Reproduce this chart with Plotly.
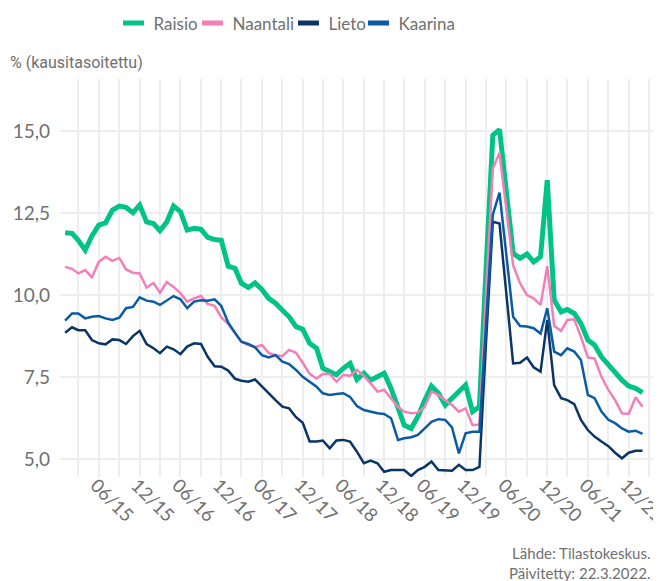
import pandas as pd
import plotly.graph_objects as go

months = pd.date_range("2015-01-01", periods=86, freq="MS")

series_names = ["Raisio", "Naantali", "Lieto", "Kaarina"]
series_colors = ["#00C386", "#F47FB8", "#0B3565", "#0A5BA6"]
series_widths = [5, 2.5, 2.5, 2.5]

raisio = [11.90, 11.88, 11.67, 11.37, 11.80, 12.13, 12.20, 12.59, 12.71, 12.67,
          12.51, 12.74, 12.23, 12.18, 11.96, 12.23, 12.71, 12.54, 11.98, 12.03,
          12.00, 11.76, 11.69, 11.67, 10.88, 10.81, 10.36, 10.23, 10.37, 10.17,
          9.90, 9.75, 9.54, 9.34, 9.04, 8.96, 8.53, 8.38, 7.77, 7.67,
          7.57, 7.77, 7.92, 7.43, 7.62, 7.41, 7.51, 7.62, 7.16, 6.60,
          6.04, 5.94, 6.30, 6.80, 7.23, 7.01, 6.65, 6.86, 7.06, 7.26,
          6.45, 6.60, 10.70, 14.87, 15.04, 13.10, 11.27, 11.12, 11.25, 11.01,
          11.17, 13.50, 9.85, 9.49, 9.56, 9.44, 9.14, 8.63, 8.48, 8.12,
          7.87, 7.62, 7.41, 7.23, 7.16, 7.03]

naantali = [10.86, 10.80, 10.66, 10.76, 10.54, 11.01, 11.17, 11.04, 11.13, 10.78,
            10.68, 10.66, 10.23, 10.37, 10.07, 10.40, 10.25, 10.05, 9.80, 9.90,
            9.97, 9.73, 9.67, 9.32, 9.12, 8.83, 8.58, 8.48, 8.41, 8.48,
            8.24, 8.17, 8.14, 8.33, 8.24, 7.94, 7.60, 7.46, 7.60, 7.60,
            7.36, 7.57, 7.54, 7.72, 7.54, 7.31, 7.06, 7.11, 6.86, 6.60,
            6.45, 6.40, 6.42, 6.60, 7.06, 6.96, 6.80, 6.65, 6.45, 6.55,
            6.04, 6.06, 9.96, 13.86, 14.33, 12.60, 10.91, 10.36, 10.00, 9.90,
            9.70, 10.88, 9.06, 8.91, 9.24, 9.26, 8.73, 8.10, 8.07, 7.51,
            7.11, 6.80, 6.40, 6.38, 6.89, 6.60]

lieto = [8.85, 9.02, 8.93, 8.93, 8.63, 8.53, 8.50, 8.65, 8.63, 8.51,
         8.75, 8.91, 8.51, 8.38, 8.23, 8.43, 8.35, 8.20, 8.43, 8.53,
         8.51, 8.12, 7.83, 7.82, 7.70, 7.45, 7.39, 7.36, 7.43, 7.21,
         7.01, 6.80, 6.60, 6.55, 6.28, 6.11, 5.54, 5.54, 5.57, 5.33,
         5.57, 5.59, 5.54, 5.23, 4.88, 4.96, 4.88, 4.62, 4.67, 4.67,
         4.67, 4.49, 4.67, 4.77, 4.93, 4.67, 4.65, 4.65, 4.83, 4.67,
         4.67, 4.77, 8.50, 12.23, 12.18, 10.05, 7.92, 7.94, 8.10, 7.80,
         7.67, 9.24, 7.26, 6.86, 6.80, 6.68, 6.20, 5.89, 5.69, 5.54,
         5.40, 5.20, 5.03, 5.20, 5.26, 5.26]

kaarina = [9.22, 9.44, 9.44, 9.29, 9.34, 9.36, 9.29, 9.24, 9.31, 9.60,
           9.64, 9.93, 9.83, 9.80, 9.70, 9.83, 9.97, 9.87, 9.60, 9.80,
           9.84, 9.83, 9.87, 9.67, 9.16, 8.85, 8.58, 8.51, 8.41, 8.17,
           8.10, 8.17, 7.97, 7.90, 7.72, 7.51, 7.36, 7.21, 7.01, 6.96,
           6.99, 7.01, 6.90, 6.62, 6.50, 6.45, 6.40, 6.38, 6.25, 5.59,
           5.64, 5.67, 5.74, 5.94, 6.14, 6.22, 6.20, 5.97, 5.18, 5.79,
           5.84, 5.84, 9.15, 12.45, 13.12, 11.20, 9.34, 9.06, 9.04, 8.99,
           8.83, 9.60, 8.28, 8.17, 8.38, 8.28, 8.02, 6.96, 6.86, 6.45,
           6.20, 6.10, 5.94, 5.84, 5.87, 5.77]

y_ticks = [5, 7.5, 10, 12.5, 15]

all_series = [raisio, naantali, lieto, kaarina]

TEXT = "#707070"
GRID = "#eeeeee"
FONT = "Lato"

legend_ids = ["legend", "legend2", "legend3", "legend4"]
legend_x = [0.0902, 0.2234, 0.3853, 0.5034]

fig = go.Figure()
for name, vals, col, w in zip(series_names, all_series, series_colors, series_widths):
    fig.add_trace(go.Scatter(x=months, y=vals, mode="lines", name=name,
                             line=dict(color=col, width=w), showlegend=False,
                             hoverinfo="skip"))
# legend-only entries (uniform short thick keys), one legend box per entry
for name, col, lid in zip(series_names, series_colors, legend_ids):
    fig.add_trace(go.Scatter(x=[None], y=[None], mode="markers", name=name,
                             marker=dict(symbol="line-ew", size=15,
                                         line=dict(color=col, width=5)),
                             showlegend=True, legend=lid))

legend_style = {}
for lid, lx in zip(legend_ids, legend_x):
    legend_style[lid] = dict(orientation="h", x=lx, xanchor="left", y=1.1395,
                             yanchor="middle", font=dict(family=FONT, size=17, color=TEXT),
                             itemwidth=30, bgcolor="rgba(0,0,0,0)")

# page body adds an 8px offset, so the figure is 8px smaller on each axis
fig.update_layout(
    width=653, height=573,
    margin=dict(l=52, r=8, t=71, b=104, autoexpand=False),
    paper_bgcolor="white", plot_bgcolor="white",
    separators=", ",
    font=dict(family=FONT, color=TEXT, size=18),
    **legend_style,
    xaxis=dict(type="date", range=["2014-12-09", "2022-03-20"],
               tick0="2015-06-01", dtick="M6", tickformat="%m/%y",
               tickangle=45, showgrid=True, gridcolor=GRID, gridwidth=1.5,
               minor=dict(dtick="M3", tick0="2015-03-01", showgrid=True,
                          gridcolor=GRID, gridwidth=1.5),
               showline=False, zeroline=False, ticks="", automargin=False,
               ticklabeloverflow="allow", ticklabelstandoff=-7, ticklabelshift=-3,
               tickfont=dict(family=FONT, size=18.5, color=TEXT)),
    yaxis=dict(range=[4.46, 16.58], tickvals=y_ticks, tickformat=".1f",
               showgrid=True, gridcolor=GRID, gridwidth=1.5,
               showline=False, zeroline=False, ticks="", automargin=False,
               ticklabelstandoff=9,
               tickfont=dict(family=FONT, size=19, color=TEXT)),
    annotations=[
        dict(text="% (kausitasoitettu)", xref="paper", yref="paper",
             x=-0.0877, y=1.0427, xanchor="left", yanchor="middle", showarrow=False,
             font=dict(family="Roboto", size=16, color=TEXT)),
        dict(text="Lähde: Tilastokeskus.<br>Päivitetty: 22.3.2022.", xref="paper", yref="paper",
             x=0.998, y=-0.2173, xanchor="right", yanchor="middle", align="right",
             showarrow=False,
             font=dict(family=FONT, size=15, color=TEXT)),
    ],
)

fig.write_html("out.html")
